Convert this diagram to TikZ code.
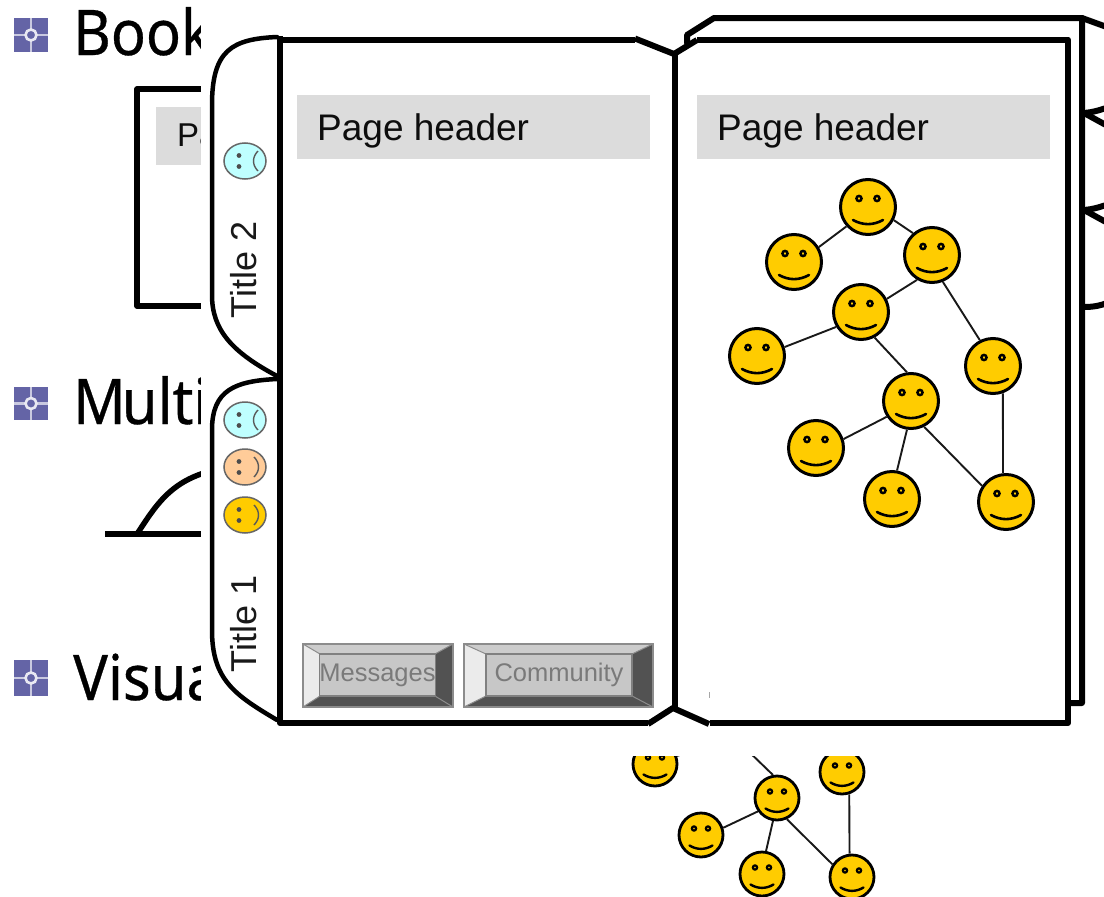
\documentclass[tikz,border=0pt]{standalone}
\usepackage{fontspec}
\setmainfont{Liberation Sans}
\newfontfamily\titlefont[FakeStretch=0.92,FakeBold=0.5]{Noto Sans}
\usetikzlibrary{calc,shapes.geometric}
\definecolor{hdr}{HTML}{DCDCDC}
\definecolor{gold}{HTML}{FFCC00}
\definecolor{bulletc}{HTML}{6464A6}
\definecolor{aqua}{HTML}{BFFFFF}
\definecolor{peach}{HTML}{FFCC99}
\tikzset{
  x=1pt,y=-1pt,
  frame/.style={line width=6pt,line cap=round,line join=round},
  tabline/.style={line width=4.5pt,line cap=round},
  hdrbox/.style={fill=hdr,draw=none},
  hdrtext/.style={font=\fontsize{37}{40}\selectfont,text=black!95,anchor=west,inner sep=0pt},
  bigtext/.style={font=\titlefont\fontsize{63}{70}\selectfont,anchor=base west,inner sep=0pt},
  link/.style={line width=1.9pt,draw=black!90},
  facebig/.style={circle,draw=black,line width=3pt,fill=gold,minimum size=55pt,inner sep=0pt},
  facesmall/.style={circle,draw=black,line width=2.8pt,fill=gold,minimum size=44pt,inner sep=0pt},
  tabface/.style={ellipse,draw=black!60,line width=1.5pt,minimum width=42pt,minimum height=36pt,inner sep=0pt},
  tabtext/.style={font=\fontsize{36}{38}\selectfont,rotate=90,inner sep=0pt,text=black!90},
  btntext/.style={font=\fontsize{25.5}{28}\selectfont,text=black!52,inner sep=0pt},
}
\newcommand{\bigface}[3]{%
  \node[facebig] (#1) at (#2,#3) {};
  \draw[line width=2.4pt,fill=none] (#2-9,#3-8.5) circle[radius=2.6];
  \draw[line width=2.4pt,fill=none] (#2+9,#3-8.5) circle[radius=2.6];
  \draw[line width=2.6pt,line cap=round] (#2-15,#3+13) .. controls (#2-5,#3+18.5) and (#2+5,#3+18.5) .. (#2+15,#3+13);
}
\newcommand{\smallface}[3]{%
  \node[facesmall] (#1) at (#2,#3) {};
  \draw[line width=2.2pt,fill=none] (#2-7,#3-6.5) circle[radius=2.1];
  \draw[line width=2.2pt,fill=none] (#2+7,#3-6.5) circle[radius=2.1];
  \draw[line width=2.4pt,line cap=round] (#2-11.5,#3+10.5) .. controls (#2-4,#3+15) and (#2+4,#3+15) .. (#2+11.5,#3+10.5);
}
\newcommand{\bulleticon}[3]{%
  \fill[bulletc] (14,#2) rectangle (48,#3);
  \draw[white!65!bulletc,line width=2.4pt] (31,#2) -- (31,#3) (14,{(#2+#3)/2}) -- (48,{(#2+#3)/2});
  \draw[white!85!bulletc,fill=bulletc,line width=2.6pt] (31,{(#2+#3)/2}) circle[radius=5.5];
  \node[inner sep=0pt] (#1) at (31,{(#2+#3)/2}) {};
}
\newcommand{\tabfacedraw}[5]{%
  \node[tabface,fill=#4] (#1) at (#2,#3) {};
  \fill[black!70] (#2-6,#3-5.5) circle[radius=2.4] (#2-6,#3+5.5) circle[radius=2.4];
  \draw[black!65,line width=1.4pt] (#2+11-#5*2,#3-10) .. controls (#2+11-#5*2+#5*6,#3-4) and (#2+11-#5*2+#5*6,#3+4) .. (#2+11-#5*2,#3+10);
}
\newcommand{\btn}[8]{%
  \fill[black!20] (#2,#3) -- (#4,#3) -- (#7,654) -- (#6,654) -- cycle;
  \fill[black!8] (#2,#3) -- (#6,654) -- (#6,696) -- (#2,#5) -- cycle;
  \fill[black!68] (#4,#3) -- (#7,654) -- (#7,696) -- (#4,#5) -- cycle;
  \fill[black!68] (#2,#5) -- (#6,696) -- (#7,696) -- (#4,#5) -- cycle;
  \draw[black!45,line width=1.2pt] (#2,#3) rectangle (#4,#5);
  \draw[black!45,line width=1pt] (#2,#3) -- (#6,654) (#4,#3) -- (#7,654) (#2,#5) -- (#6,696) (#4,#5) -- (#7,696);
  \node[draw=black!50,line width=1.2pt,fill=black!22,btntext,minimum width=#7pt-#6pt,minimum height=42pt,anchor=center] (#1) at ({(#6+#7)/2},675) {#8};
}
\begin{document}
\begin{tikzpicture}
\useasboundingbox (0,0) rectangle (1104,897);
\fill[white] (0,0) rectangle (1104,897);

% ---- material behind the open book ----
\bulleticon{b1}{18}{52}
\bulleticon{b2}{387}{420}
\bulleticon{b3}{660}{696}
\node[bigtext] (t1) at (73,55) {Book};
\node[bigtext] (t2) at (73,424) {M\kern-4pt ulti};
\node[bigtext] (t3) at (73,700) {Visua};

% slide's back page
\draw[line width=5.5pt,line join=round] (290,89) -- (137,89) -- (137,306) -- (290,306);
\fill[hdr] (156,107) rectangle (260,165);
\node[hdrtext,font=\fontsize{33}{36}\selectfont] (p0) at (177,139) {Page};

% curve
\draw[line width=6pt] (105,534) -- (290,534);
\draw[line width=5.5pt] (137,534) .. controls (155,507) and (170,480) .. (215,470);

% small network at bottom
\coordinate (cut1) at (743,746);
\coordinate (cut2) at (702,747);
\smallface{s1}{655}{764}
\smallface{s2}{777}{798}
\smallface{s3}{842}{772}
\smallface{s4}{701}{835}
\smallface{s5}{762}{874}
\smallface{s6}{852}{877}
\draw[link] (s1.20) -- (cut2);
\draw[link] (s2.100) -- (cut1);
\draw[link] (s2.215) -- (s4.18);
\draw[link] (s2.-100) -- (s5.80);
\draw[link] (s2.-65) -- (s6.147);
\draw[link] (s3.-72) -- (s6.96);

% mask
\fill[white] (201,0) rectangle (1104,756);

% ---- back right page ----
\draw[frame] (1082,18) -- (1115,30);
\draw[frame] (1084,113) -- (1115,130);
\draw[frame] (1084,113) .. controls (1095,112) and (1100,110) .. (1115,105);
\draw[frame] (1084,210) -- (1115,227);
\draw[frame] (1084,210) .. controls (1095,209) and (1100,207) .. (1115,202);
\draw[frame] (1082,307) .. controls (1095,307) and (1100,306) .. (1115,300);
\draw[frame] (687,43) -- (687,35) -- (714,18) -- (1082,18) -- (1082,703) -- (1068,703);

% ---- tabs ----
\draw[black!40,line width=1pt] (277,38) -- (277,720);
\fill[white] (277,37) .. controls (232,39) and (212,50) .. (212,105) -- (212,295) .. controls (212,330) and (232,352) .. (277,376) -- cycle;
\draw[tabline] (277,37) .. controls (232,39) and (212,50) .. (212,105) -- (212,295) .. controls (212,330) and (232,352) .. (277,376);
\fill[white] (277,379) .. controls (235,381) and (212,390) .. (212,430) -- (212,630) .. controls (212,680) and (235,695) .. (277,720) -- cycle;
\draw[tabline] (277,379) .. controls (235,381) and (212,390) .. (212,430) -- (212,630) .. controls (212,680) and (235,695) .. (277,720);
\draw[black!40,line width=1pt] (277,38) -- (277,720);

\tabfacedraw{f0}{245}{161}{aqua}{-1}
\tabfacedraw{f1}{245}{420}{aqua}{-1}
\tabfacedraw{f2}{245}{467}{peach}{1}
\tabfacedraw{f3}{245}{515}{gold}{1}
\node[tabtext] (tt2) at (244,270) {Title 2};
\node[tabtext] (tt1) at (244,624) {Title 1};

% ---- open book front pages ----
\fill[white] (281,40) -- (635,40) -- (673,54) -- (697,40) -- (1068,40) -- (1068,722) -- (710,722) -- (673,707) -- (648,722) -- (281,722) -- cycle;
\draw[frame,line cap=butt] (280,36) -- (280,723) -- (648,723);
\draw[frame,line cap=butt] (280,39.5) -- (635,39.5);
\draw[frame,line cap=butt] (635,38.5) -- (674,54) -- (697,40);
\draw[frame,line cap=butt] (697,39.5) -- (1068,39.5) -- (1068,723) -- (710,723);
\draw[frame,line cap=butt] (648,724) -- (673,708) -- (709,724);
\draw[frame,line cap=butt] (674.5,54) -- (674.5,708);

% headers
\fill[hdr] (297,95) rectangle (650,158.5);
\fill[hdr] (697,95) rectangle (1050,158.5);
\node[hdrtext] (h1) at (317,131) {Page header};
\node[hdrtext] (h2) at (717,131) {Page header};

% buttons
\btn{bm}{303}{644}{453}{707}{320}{435}{Messages}
\btn{bc}{464}{644}{653}{707}{486}{632}{Community}
\draw[black!35,line width=.7pt] (709,692) -- (709,698);

% ---- big network ----
\bigface{n1}{868}{207}
\bigface{n2}{794}{262}
\bigface{n3}{932}{255}
\bigface{n4}{861}{312}
\bigface{n5}{757}{356}
\bigface{n6}{911}{401}
\bigface{n7}{993}{366}
\bigface{n8}{816}{448}
\bigface{n9}{892}{499}
\bigface{n10}{1006}{502}
\draw[link] (n1.222) -- (n2.31);
\draw[link] (n1.-27) -- (n3.131);
\draw[link] (n3.-121) -- (n4.27);
\draw[link] (n3.-68) -- (n7.117);
\draw[link] (n4.211) -- (n5.18);
\draw[link] (n4.-62) -- (n6.98);
\draw[link] (n6.213) -- (n8.18);
\draw[link] (n6.-98) -- (n9.80);
\draw[link] (n6.-63) -- (n10.146);
\draw[link] (n7.-70) -- (n10.96);
\end{tikzpicture}
\end{document}
